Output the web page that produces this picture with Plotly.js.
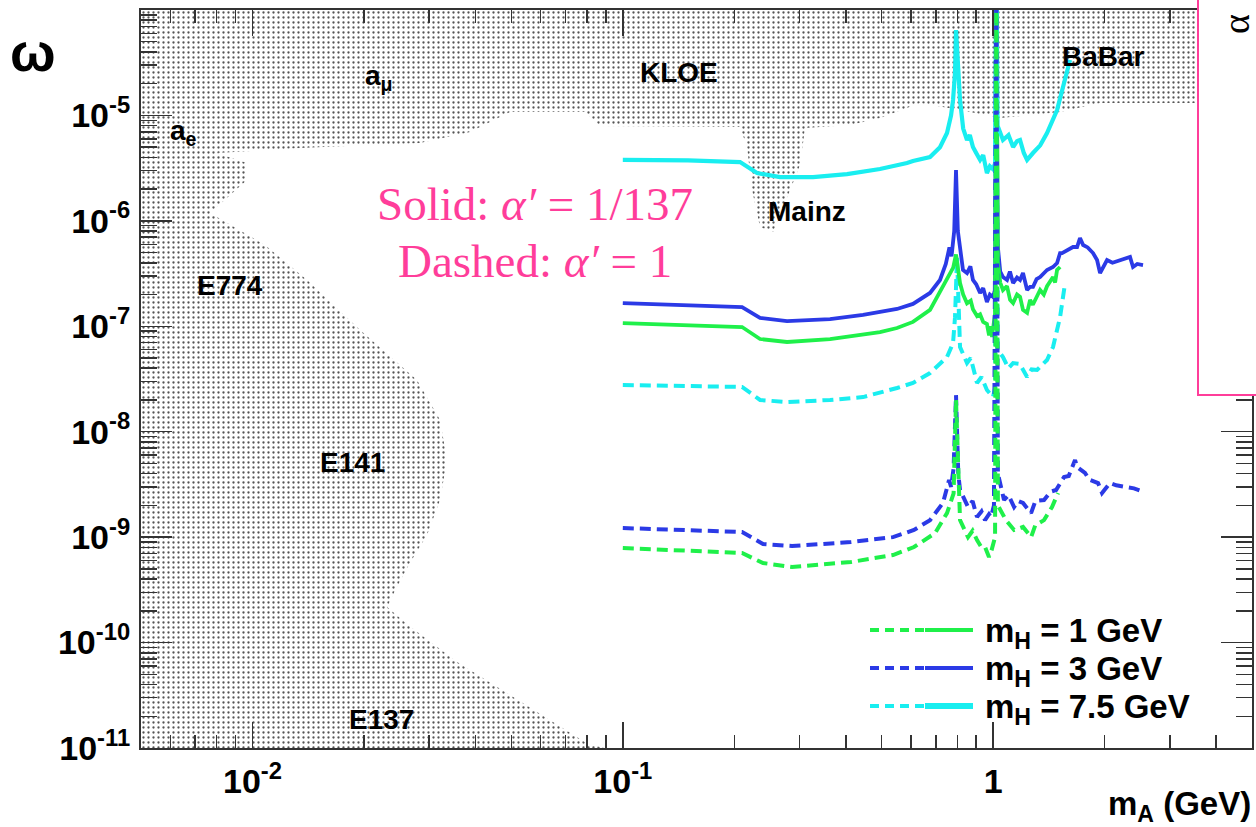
<!DOCTYPE html>
<html><head><meta charset="utf-8">
<script src="https://cdn.plot.ly/plotly-3.0.1.min.js"></script>
<style>html,body{margin:0;padding:0;background:#fff}#chart{width:1256px;height:827px}</style>
</head><body><div id="chart"></div>
<script>
// ---- Excluded region (a_mu, a_e, KLOE, Mainz, BaBar, E774, E141, E137) ----
const excludedMass = [0.005, 5, 5, 1.944, 1.516, 1.044, 0.814, 0.635, 0.495, 0.411, 0.3105, 0.301, 0.283, 0.2545, 0.2347, 0.2234, 0.2165, 0.2073, 0.0868, 0.079, 0.0496, 0.0387, 0.0283, 0.0134, 0.0080, 0.00966, 0.00966, 0.00768, 0.0108, 0.01404, 0.01952, 0.0278, 0.0321, 0.0335, 0.0321, 0.0296, 0.0266, 0.0243, 0.0231, 0.0263, 0.0357, 0.0534, 0.0805, 0.089, 0.005];
const excludedEps  = [1e-4, 1e-4, 1.31e-5, 1.31e-5, 1.077e-5, 9.45e-6, 1.125e-5, 1.31e-5, 9.45e-6, 8.11e-6, 7.6e-6, 3.39e-6, 1.96e-6, 7.84e-7, 8.74e-7, 1.96e-6, 5.02e-6, 7.76e-6, 7.93e-6, 1.077e-5, 1.077e-5, 6.96e-6, 5.47e-6, 4.91e-6, 4.4e-6, 3.54e-6, 2.44e-6, 1.19e-6, 5.9e-7, 2.75e-7, 9.22e-8, 3.09e-8, 1.29e-8, 5.39e-9, 2.25e-9, 1.05e-9, 5.68e-10, 3.15e-10, 2.17e-10, 1.47e-10, 6.55e-11, 2.67e-11, 1.09e-11, 1e-11, 1e-11];

// ---- Solid: alpha' = 1/137 ----
const solid1Mass = [0.1, 0.15, 0.2099, 0.2347, 0.2776, 0.3627, 0.4453, 0.4948, 0.5501, 0.6075, 0.6753, 0.732, 0.7647, 0.78, 0.7938, 0.8139, 0.83, 0.85, 0.87, 0.882, 0.905, 0.922, 0.94, 0.962, 0.975, 0.985, 0.993, 1.005, 1.012, 1.02, 1.03, 1.045, 1.063, 1.09, 1.111, 1.132, 1.16, 1.182, 1.204, 1.235, 1.258, 1.28, 1.314, 1.339, 1.37, 1.398, 1.451, 1.47, 1.488, 1.516];
const solid1Eps  = [1.07e-7, 1.03e-7, 9.84e-8, 7.57e-8, 7.1e-8, 7.57e-8, 8.27e-8, 8.82e-8, 9.63e-8, 1.1e-7, 1.43e-7, 2.36e-7, 3.2e-7, 3.6e-7, 4.8e-7, 2.57e-7, 2.0e-7, 1.65e-7, 1.75e-7, 1.45e-7, 1.25e-7, 1.3e-7, 1.1e-7, 1.05e-7, 8.2e-8, 1.0e-7, 7.9e-8, 1.2e-7, 1.34e-7, 3e-4, 4e-7, 2.6e-7, 2.2e-7, 2.4e-7, 1.78e-7, 1.66e-7, 2.0e-7, 1.9e-7, 1.43e-7, 1.34e-7, 1.78e-7, 1.6e-7, 1.9e-7, 2.21e-7, 2.0e-7, 2.4e-7, 2.93e-7, 2.6e-7, 3.42e-7, 3.65e-7];

const solid3Mass = [0.1, 0.15, 0.2099, 0.2347, 0.2776, 0.3627, 0.4453, 0.5501, 0.6075, 0.6753, 0.7186, 0.745, 0.7506, 0.762, 0.772, 0.785, 0.7938, 0.803, 0.829, 0.85, 0.868, 0.882, 0.9, 0.922, 0.94, 0.962, 0.98, 0.999, 1.012, 1.02, 1.028, 1.045, 1.063, 1.09, 1.11, 1.132, 1.16, 1.182, 1.204, 1.235, 1.258, 1.281, 1.31, 1.339, 1.398, 1.451, 1.488, 1.516, 1.535, 1.59, 1.643, 1.685, 1.716, 1.75, 1.8, 1.861, 1.908, 1.944, 1.968, 2.03, 2.1, 2.201, 2.3, 2.342, 2.386, 2.45, 2.539];
const solid3Eps  = [1.66e-7, 1.6e-7, 1.52e-7, 1.2e-7, 1.12e-7, 1.17e-7, 1.28e-7, 1.46e-7, 1.63e-7, 2.07e-7, 2.75e-7, 3.9e-7, 4.5e-7, 5.6e-7, 4.6e-7, 8e-7, 3.04e-6, 8e-7, 3.42e-7, 3.2e-7, 3.7e-7, 2.75e-7, 2.5e-7, 2.07e-7, 2.3e-7, 1.7e-7, 2.0e-7, 1.9e-7, 2.2e-7, 3e-4, 6e-7, 3.3e-7, 2.93e-7, 2.75e-7, 3.3e-7, 2.57e-7, 2.9e-7, 2.75e-7, 3.2e-7, 2.21e-7, 2.36e-7, 2.36e-7, 2.8e-7, 2.93e-7, 3.42e-7, 3.65e-7, 3.98e-7, 4.95e-7, 4.95e-7, 5.3e-7, 5.65e-7, 5.65e-7, 6.88e-7, 5.9e-7, 5.6e-7, 4.95e-7, 4.25e-7, 3.2e-7, 3.5e-7, 4.25e-7, 4.0e-7, 4.25e-7, 4.4e-7, 4.54e-7, 3.65e-7, 3.9e-7, 3.81e-7];

const solid75Mass = [0.1, 0.15, 0.2073, 0.2304, 0.2658, 0.3264, 0.4031, 0.4948, 0.5853, 0.6075, 0.6753, 0.7186, 0.7506, 0.7697, 0.7793, 0.7889, 0.7938, 0.8139, 0.83, 0.85, 0.865, 0.882, 0.9, 0.922, 0.94, 0.962, 0.98, 0.999, 1.012, 1.02, 1.028, 1.063, 1.1, 1.132, 1.16, 1.182, 1.21, 1.235, 1.281, 1.34, 1.398, 1.44, 1.488, 1.544, 1.613];
const solid75Eps  = [3.78e-6, 3.74e-6, 3.61e-6, 2.84e-6, 2.6e-6, 2.6e-6, 2.78e-6, 3.1e-6, 3.54e-6, 3.7e-6, 4.03e-6, 5.0e-6, 6.81e-6, 1.0e-5, 1.4e-5, 2.5e-5, 6.46e-5, 1.4e-5, 7.5e-6, 5.85e-6, 6.5e-6, 5.02e-6, 4.4e-6, 3.78e-6, 4.2e-6, 2.84e-6, 3.3e-6, 3.1e-6, 3.5e-6, 3e-4, 8e-6, 5.85e-6, 6.5e-6, 5.02e-6, 5.7e-6, 5.85e-6, 4.4e-6, 3.78e-6, 4.4e-6, 5.2e-6, 6.81e-6, 8.5e-6, 1.125e-5, 1.86e-5, 3.36e-5];

// ---- Dashed: alpha' = 1 ----
const dashed1Mass = [0.1, 0.15, 0.2099, 0.2391, 0.2863, 0.4133, 0.5366, 0.6113, 0.6966, 0.7506, 0.7697, 0.782, 0.7938, 0.8139, 0.8554, 0.88, 0.9046, 0.93, 0.9507, 0.9745, 0.99, 1.012, 1.02, 1.03, 1.083, 1.139, 1.204, 1.266, 1.3, 1.372, 1.442, 1.497];
const dashed1Eps  = [7.89e-10, 7.5e-10, 7.07e-10, 5.68e-10, 5.21e-10, 5.81e-10, 6.77e-10, 8.06e-10, 1.09e-9, 1.69e-9, 2.25e-9, 2.6e-9, 2.0e-8, 1.45e-9, 1.0e-9, 1.15e-9, 9.39e-10, 8.0e-10, 8.06e-10, 6.48e-10, 7.5e-10, 1.0e-9, 3e-4, 2e-9, 1.45e-9, 1.17e-9, 1.25e-9, 1.0e-9, 1.3e-9, 1.45e-9, 1.93e-9, 2.62e-9];

const dashed3Mass = [0.1, 0.15, 0.2099, 0.2391, 0.2863, 0.4133, 0.5366, 0.6113, 0.6753, 0.732, 0.7602, 0.77, 0.782, 0.7938, 0.805, 0.8139, 0.8554, 0.88, 0.9046, 0.93, 0.9507, 0.9745, 0.987, 1.005, 1.02, 1.03, 1.07, 1.1, 1.139, 1.17, 1.204, 1.266, 1.3, 1.372, 1.43, 1.479, 1.554, 1.6, 1.664, 1.685, 1.77, 1.82, 1.92, 1.968, 2.068, 2.15, 2.299, 2.4, 2.555];
const dashed3Eps  = [1.22e-9, 1.17e-9, 1.12e-9, 8.61e-10, 8.24e-10, 8.99e-10, 1.0e-9, 1.17e-9, 1.45e-9, 2.11e-9, 3.48e-9, 3.0e-9, 4.5e-9, 2.23e-8, 4e-9, 2.8e-9, 1.93e-9, 2.2e-9, 1.55e-9, 1.75e-9, 1.45e-9, 1.65e-9, 1.55e-9, 2.0e-9, 3e-4, 4e-9, 2.25e-9, 2.5e-9, 1.93e-9, 2.2e-9, 2.11e-9, 1.69e-9, 2.2e-9, 2.25e-9, 2.7e-9, 2.8e-9, 3.72e-9, 3.8e-9, 5.39e-9, 4.63e-9, 4.06e-9, 3.5e-9, 3.26e-9, 2.62e-9, 3.26e-9, 3.1e-9, 2.99e-9, 2.9e-9, 2.68e-9];

const dashed75Mass = [0.1, 0.15, 0.2099, 0.2347, 0.2776, 0.3627, 0.4453, 0.5501, 0.6075, 0.6753, 0.7506, 0.7793, 0.7889, 0.7988, 0.8139, 0.85, 0.87, 0.9046, 0.93, 0.962, 0.999, 1.012, 1.02, 1.028, 1.063, 1.1, 1.132, 1.18, 1.235, 1.27, 1.314, 1.398, 1.451, 1.516, 1.564];
const dashed75Eps  = [2.77e-8, 2.72e-8, 2.66e-8, 2.0e-8, 1.91e-8, 2.0e-8, 2.13e-8, 2.6e-8, 2.9e-8, 3.6e-8, 5.11e-8, 6.94e-8, 1.22e-7, 4.54e-7, 6.36e-8, 4.48e-8, 5.0e-8, 2.9e-8, 3.3e-8, 2.49e-8, 2.13e-8, 2.6e-8, 3e-4, 6e-8, 5.11e-8, 4.0e-8, 4.48e-8, 4.4e-8, 3.3e-8, 3.9e-8, 3.85e-8, 4.79e-8, 6.36e-8, 1.22e-7, 2.57e-7];

// ---- Labels ----
const legendLabels = ['m<sub>H</sub> = 1 GeV', 'm<sub>H</sub> = 3 GeV', 'm<sub>H</sub> = 7.5 GeV'];
const regionLabels = ['a<sub>μ</sub>', 'a<sub>e</sub>', 'KLOE', 'BaBar', 'Mainz', 'E774', 'E141', 'E137'];
const xTickVals = [0.01, 0.1, 1];
const xTickText = ['10<sup>-2</sup>', '10<sup>-1</sup>', '1'];
const yTickVals = [1e-11, 1e-10, 1e-9, 1e-8, 1e-7, 1e-6, 1e-5];
const yTickText = ['10<sup>-11</sup>', '10<sup>-10</sup>', '10<sup>-9</sup>', '10<sup>-8</sup>', '10<sup>-7</sup>', '10<sup>-6</sup>', '10<sup>-5</sup>'];

// ---- styling ----
const GREEN = '#1ff04a', BLUE = '#2b3ae6', CYAN = '#19eef0', PINK = '#ff3d9a';
const SANS = 'Liberation Sans, Arial, Helvetica, sans-serif';
const SERIF = 'Liberation Serif, Times New Roman, serif';
const L = 141, R = 1252, T = 10, B = 748, W = 1256, H = 827;
const px = x => (x - L) / (R - L);
const py = y => (B - y) / (B - T);

const minorTicks = (lo, hi) => { const v = []; for (let e = -12; e <= 1; e++) for (let k = 2; k <= 9; k++) { const t = k * Math.pow(10, e); if (t >= lo && t <= hi) v.push(t); } return v; };

const DASH = '11px,6px';
const traces = [
  {x: excludedMass, y: excludedEps, mode: 'lines', line: {width: 0, color: '#777'}, fill: 'toself',
   fillcolor: 'rgba(0,0,0,0)', fillpattern: {shape: '.', fgcolor: '#555555', bgcolor: 'rgba(255,255,255,0)', size: 5, solidity: 0.17}, hoverinfo: 'skip'},
  {x: dashed75Mass, y: dashed75Eps, mode: 'lines', line: {color: CYAN, width: 4, dash: DASH}},
  {x: solid3Mass, y: solid3Eps, mode: 'lines', line: {color: BLUE, width: 3.8}},
  {x: solid1Mass, y: solid1Eps, mode: 'lines', line: {color: GREEN, width: 3.8}},
  {x: solid75Mass, y: solid75Eps, mode: 'lines', line: {color: CYAN, width: 4.2}},
  {x: dashed3Mass, y: dashed3Eps, mode: 'lines', line: {color: BLUE, width: 4, dash: DASH}},
  {x: dashed1Mass, y: dashed1Eps, mode: 'lines', line: {color: GREEN, width: 4, dash: DASH}}
];

const tickFont = {family: SANS, size: 34, color: '#000'};
const axisCommon = {type: 'log', ticks: 'inside', tickcolor: '#333', tickwidth: 1.5, showline: true,
  linecolor: '#333', linewidth: 2, mirror: 'ticks', showgrid: false, zeroline: false, tickfont: tickFont};

const shapes = [];
const annotations = [];
const legendColors = [GREEN, BLUE, CYAN];
const legendRowsY = [630, 668, 706];
legendLabels.forEach((lab, i) => {
  const yy = py(legendRowsY[i]);
  shapes.push({type: 'line', xref: 'paper', yref: 'paper', x0: px(870), x1: px(925), y0: yy, y1: yy,
    line: {color: legendColors[i], width: 4, dash: '9px,6px'}});
  shapes.push({type: 'line', xref: 'paper', yref: 'paper', x0: px(925), x1: px(973), y0: yy, y1: yy,
    line: {color: legendColors[i], width: i === 2 ? 6 : 4}});
  annotations.push({xref: 'paper', yref: 'paper', x: px(983), y: py(legendRowsY[i] + 3), xanchor: 'left', yanchor: 'middle',
    text: '<b>' + lab + '</b>', showarrow: false, font: {family: SANS, size: 33, color: '#000'}});
});

const regionPos = [[379, 77], [183, 133], [679, 73], [1103, 56], [807, 211], [230, 285], [352, 463], [381, 719]];
regionLabels.forEach((lab, i) => {
  annotations.push({xref: 'paper', yref: 'paper', x: px(regionPos[i][0]), y: py(regionPos[i][1]), xanchor: 'center', yanchor: 'middle',
    text: '<b>' + lab + '</b>', showarrow: false, font: {family: SANS, size: 28, color: '#000'}});
});

// pink annotation texts
annotations.push({xref: 'paper', yref: 'paper', x: px(535), y: py(204), xanchor: 'center', yanchor: 'middle', showarrow: false,
  text: 'Solid: <i>α′</i> = 1/137', font: {family: SERIF, size: 47, color: PINK}});
annotations.push({xref: 'paper', yref: 'paper', x: px(535), y: py(261), xanchor: 'center', yanchor: 'middle', showarrow: false,
  text: 'Dashed: <i>α′</i> = 1', font: {family: SERIF, size: 47, color: PINK}});

// axis titles
annotations.push({xref: 'paper', yref: 'paper', x: px(33), y: py(52), xanchor: 'center', yanchor: 'middle', showarrow: false,
  text: '<b>ω</b>', font: {family: SANS, size: 54, color: '#000'}});
annotations.push({xref: 'paper', yref: 'paper', x: px(1253), y: py(806), xanchor: 'right', yanchor: 'middle', showarrow: false,
  text: '<b>m<sub>A</sub> (GeV)</b>', font: {family: SANS, size: 33, color: '#000'}});

// pink framed inset (cropped neighbour panel)
shapes.push({type: 'rect', xref: 'paper', yref: 'paper', x0: px(1198), x1: px(1270), y0: py(395), y1: py(-20),
  line: {color: PINK, width: 2}, fillcolor: '#ffffff', layer: 'above'});
annotations.push({xref: 'paper', yref: 'paper', x: px(1236), y: py(24), xanchor: 'center', yanchor: 'middle', showarrow: false,
  text: 'α', textangle: -90, font: {family: SERIF, size: 38, color: '#000'}});

const layout = {
  width: W, height: H, margin: {l: L, r: W - R, t: T, b: H - B, pad: 0},
  paper_bgcolor: '#fff', plot_bgcolor: '#fff', showlegend: false,
  xaxis: Object.assign({}, axisCommon, {range: [Math.log10(0.005), Math.log10(5)], tickmode: 'array', tickvals: xTickVals,
    ticktext: xTickText.map(t => '<b>' + t + '</b>'), ticklen: 26, ticklabelstandoff: 2,
    minor: {tickmode: 'array', tickvals: minorTicks(0.005, 5), ticks: 'inside', ticklen: 13, tickwidth: 1.5, tickcolor: '#333', showgrid: false}}),
  yaxis: Object.assign({}, axisCommon, {range: [-11, -4], tickmode: 'array', tickvals: yTickVals,
    ticktext: yTickText.map(t => '<b>' + t + '</b>'), ticklen: 31, ticklabelstandoff: 2,
    minor: {tickmode: 'array', tickvals: minorTicks(1e-11, 1e-4), ticks: 'inside', ticklen: 16, tickwidth: 1.5, tickcolor: '#333', showgrid: false}}),
  shapes: shapes, annotations: annotations
};

Plotly.newPlot('chart', traces, layout, {staticPlot: true, displayModeBar: false});
</script></body></html>
